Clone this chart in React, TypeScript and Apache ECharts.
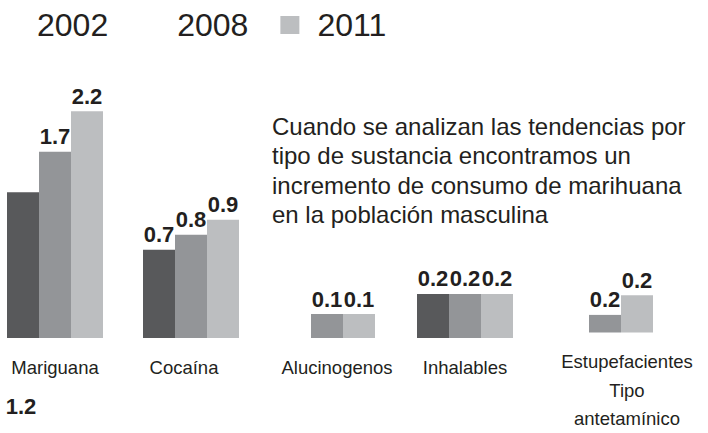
import React, { useEffect, useRef } from "react";
import * as echarts from "echarts";

// ---- data ----
const years = ["2002", "2008", "2011"];
const categories = [
  "Mariguana",
  "Cocaína",
  "Alucinogenos",
  "Inhalables",
  "Estupefacientes\nTipo\nantetamínico",
];
const values2002: (number | null)[] = [1.2, 0.7, null, 0.2, null];
const values2008: (number | null)[] = [1.7, 0.8, 0.1, 0.2, 0.16];
const values2011: (number | null)[] = [2.2, 0.9, 0.1, 0.2, 0.24];
const description =
  "Cuando se analizan las tendencias por\ntipo de sustancia encontramos un\nincremento de consumo de marihuana\nen la población masculina";

// ---- layout / style ----
const colors = ["#58595b", "#939598", "#bcbec0"];
const gridLefts = [7, 143, 279, 417, 557];
const yRanges = [
  [-0.6, 2.486],
  [0.111, 1.778],
  [0, 1.042],
  [0, 1.136],
  [0.088, 1.088],
];
const labelShift = [0, -7, 10, 0, 22];
const textColor = "#231f20";
const sans = "'Liberation Sans', Arial, sans-serif";

export default function App() {
  const ref = useRef<HTMLDivElement>(null);
  useEffect(() => {
    if (!ref.current) return;
    const chart = echarts.init(ref.current, null, { renderer: "svg" });
    const valuesByYear = [values2002, values2008, values2011];

    const grids = categories.map((_, i) => ({
      left: gridLefts[i],
      width: 96,
      top: 88,
      height: 250,
      containLabel: false,
    }));
    const xAxes = categories.map((c, i) => {
      const s = labelShift[i];
      return {
        type: "category",
        gridIndex: i,
        data: [c],
        axisLine: { show: false },
        axisTick: { show: false },
        axisLabel: {
          margin: 15,
          fontSize: 18.5,
          fontFamily: sans,
          color: textColor,
          lineHeight: 28.5,
          padding: s >= 0 ? [0, 0, 0, 2 * s] : [0, -2 * s, 0, 0],
          interval: 0,
        },
      };
    });
    const yAxes = categories.map((_, i) => ({
      type: "value",
      gridIndex: i,
      min: yRanges[i][0],
      max: yRanges[i][1],
      startValue: yRanges[i][0],
      show: false,
      splitLine: { show: false },
    }));
    const series: any[] = [];
    categories.forEach((_, i) => {
      years.forEach((y, j) => {
        const v = valuesByYear[j][i];
        const relocated = i === 0 && j === 0;
        series.push({
          type: "bar",
          name: y,
          xAxisIndex: i,
          yAxisIndex: i,
          barWidth: 32,
          barGap: "0%",
          barCategoryGap: "0%",
          itemStyle: { color: colors[j] },
          data: [v === null ? "-" : v],
          label: {
            show: true,
            position: relocated ? "bottom" : "top",
            offset: relocated ? [-2, 53] : [0, 0],
            distance: 4,
            fontSize: 22,
            fontWeight: "bold",
            fontFamily: sans,
            color: textColor,
            formatter: (p: any) => Number(p.value).toFixed(1),
          },
        });
      });
    });

    chart.setOption({
      animation: false,
      backgroundColor: "#ffffff",
      legend: {
        left: 0,
        top: 9,
        padding: 0,
        itemWidth: 19,
        itemHeight: 18,
        itemGap: 32,
        icon: "rect",
        textStyle: {
          fontSize: 32,
          fontFamily: sans,
          color: textColor,
          padding: [0, 0, 0, 13],
        },
        data: [
          { name: "2002", itemStyle: { opacity: 0 } },
          { name: "2008", itemStyle: { opacity: 0 } },
          { name: "2011" },
        ],
      },
      grid: grids,
      xAxis: xAxes,
      yAxis: yAxes,
      series,
      graphic: [
        {
          type: "text",
          left: 272,
          top: 112,
          style: {
            text: description,
            fontSize: 24,
            lineHeight: 29.3,
            fontFamily: sans,
            fill: textColor,
          },
        },
      ],
    });
    return () => chart.dispose();
  }, []);
  return (
    <div
      ref={ref}
      style={{ position: "fixed", left: 0, top: 0, width: 708, height: 433 }}
    />
  );
}
